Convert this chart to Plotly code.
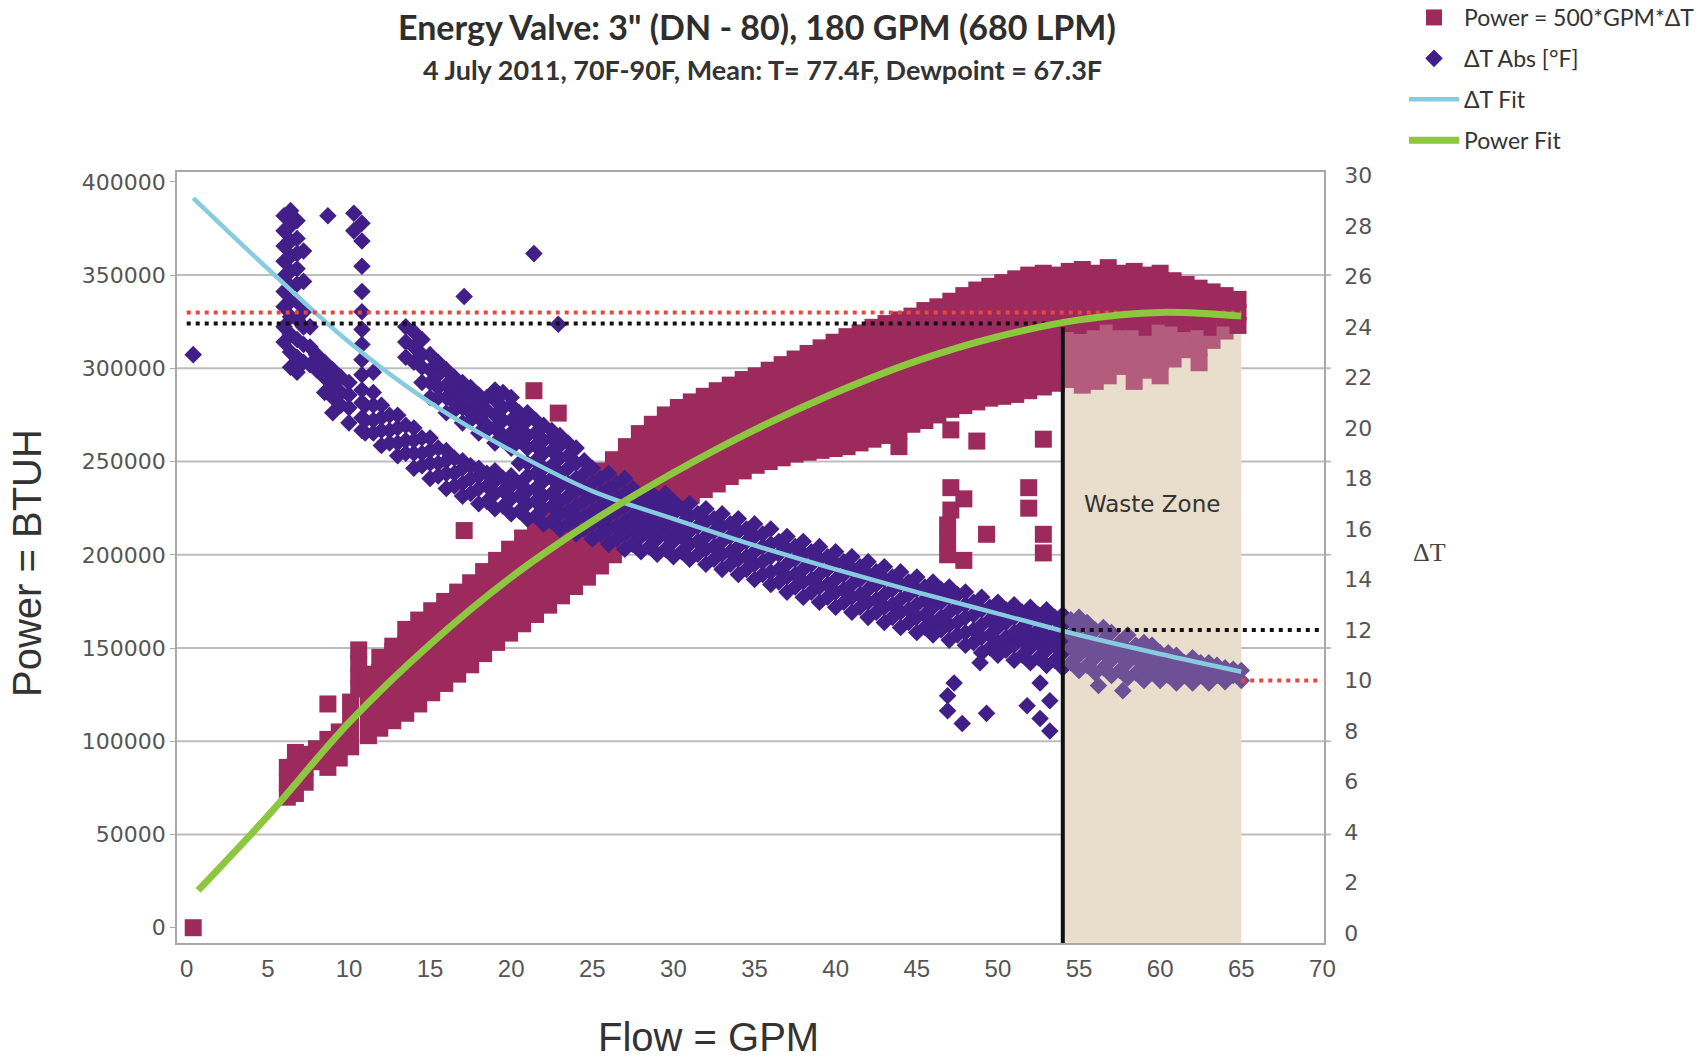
import plotly.graph_objects as go

# ---------------- text ----------------
title_text = 'Energy Valve: 3" (DN - 80), 180 GPM (680 LPM)'
subtitle_text = "4 July 2011, 70F-90F, Mean: T= 77.4F, Dewpoint = 67.3F"
x_title = "Flow = GPM"
y_title = "Power = BTUH"
y2_title = "ΔT"
zone_label = "Waste Zone"
name_power = "Power = 500*GPM*ΔT"
name_dt = "ΔT Abs [°F]"
name_dt_fit = "ΔT Fit"
name_power_fit = "Power Fit"

# ---------------- axes ----------------
x_tick_vals = [0, 5, 10, 15, 20, 25, 30, 35, 40, 45, 50, 55, 60, 65, 70]
power_tick_vals = [0, 50000, 100000, 150000, 200000, 250000, 300000, 350000, 400000]
power_grid_vals = [50000, 100000, 150000, 200000, 250000, 300000, 350000]
dt_tick_vals = [0, 2, 4, 6, 8, 10, 12, 14, 16, 18, 20, 22, 24, 26, 28, 30]
x_range = [-0.6, 70.1]
power_range = [-8200, 405300]
dt_range = [-0.39, 30.13]

# ---------------- scatter: Power (kBTUH), grouped by GPM column ----------------
power_cols = [
    (0.4, [0]),
    (6.2, [70, 78, 86]),
    (6.7, [72, 80, 87, 94]),
    (7.3, [78, 86, 93]),
    (8.0, [89, 96]),
    (8.7, [86, 93, 101, 120]),
    (9.4, [91, 98, 105]),
    (10.1, [97, 105, 113, 121]),
    (10.6, [128, 135, 142, 149]),
    (11.2, [103, 110, 118, 125, 132, 136]),
    (11.9, [107, 115, 122, 130, 137, 145]),
    (12.7, [111, 118, 126, 133, 141, 148, 151]),
    (13.5, [115, 122, 130, 137, 145, 152, 160]),
    (14.3, [120, 127, 135, 142, 150, 157, 165]),
    (15.1, [126, 133, 141, 148, 155, 163, 170]),
    (15.9, [131, 138, 146, 153, 160, 168, 175]),
    (16.7, [136, 143, 151, 158, 165, 173, 180]),
    (17.1, [213]),
    (17.5, [141, 148, 156, 163, 170, 178, 185]),
    (18.3, [147, 154, 162, 169, 176, 184, 191]),
    (19.1, [153, 160, 168, 175, 182, 190, 197]),
    (19.9, [158, 165, 173, 180, 188, 195, 203]),
    (20.7, [163, 170, 178, 186, 194, 201, 209]),
    (21.4, [288]),
    (21.5, [168, 176, 183, 191, 199, 207, 215]),
    (22.3, [173, 181, 189, 197, 205, 213, 221]),
    (22.9, [276]),
    (23.1, [178, 186, 193, 201, 209, 217, 224, 227]),
    (23.9, [183, 191, 198, 206, 214, 222, 229, 233]),
    (24.7, [188, 196, 203, 211, 219, 227, 234, 239]),
    (25.5, [194, 201, 209, 216, 224, 231, 238, 245]),
    (26.3, [200, 207, 215, 222, 229, 237, 244, 251]),
    (27.1, [206, 213, 221, 228, 236, 243, 250, 258]),
    (27.9, [212, 219, 227, 234, 242, 249, 257, 265]),
    (28.7, [218, 225, 233, 240, 248, 255, 263, 270]),
    (29.5, [223, 230, 238, 245, 253, 260, 268, 275]),
    (30.3, [228, 235, 243, 250, 257, 265, 272, 279]),
    (31.1, [232, 239, 247, 254, 261, 268, 275, 282]),
    (31.9, [235, 242, 250, 257, 264, 271, 278, 285]),
    (32.7, [238, 245, 253, 260, 267, 274, 281, 288]),
    (33.5, [242, 249, 256, 264, 271, 278, 285, 291]),
    (34.3, [245, 252, 259, 267, 274, 281, 288, 294]),
    (35.1, [248, 255, 262, 269, 276, 283, 290, 296]),
    (35.9, [250, 257, 264, 271, 278, 285, 292, 299]),
    (36.7, [252, 259, 266, 273, 281, 288, 295, 302]),
    (37.5, [254, 261, 268, 276, 283, 290, 298, 305]),
    (38.3, [255, 262, 270, 277, 285, 292, 300, 308]),
    (39.1, [256, 264, 271, 279, 287, 295, 303, 311]),
    (39.9, [257, 265, 273, 280, 288, 296, 304, 311, 314]),
    (40.7, [258, 266, 274, 282, 290, 298, 306, 313, 317]),
    (41.5, [260, 268, 276, 284, 292, 300, 308, 315, 319]),
    (42.3, [262, 270, 278, 286, 294, 302, 310, 317, 322]),
    (43.1, [264, 272, 280, 288, 296, 304, 312, 319, 324]),
    (43.9, [258, 266, 274, 282, 290, 298, 306, 314, 321, 326]),
    (44.7, [270, 278, 286, 294, 302, 310, 317, 324, 328]),
    (45.5, [272, 280, 288, 296, 304, 312, 319, 326, 331]),
    (46.3, [275, 283, 291, 299, 307, 314, 321, 328, 333]),
    (46.9, [200, 208, 216]),
    (47.1, [224, 236, 267, 278, 286, 294, 302, 310, 318, 325, 332, 336]),
    (47.9, [197, 230, 280, 288, 296, 304, 312, 320, 327, 334, 339]),
    (48.7, [261, 282, 290, 298, 306, 314, 322, 329, 336, 342]),
    (49.3, [211]),
    (49.5, [284, 292, 300, 308, 316, 324, 331, 338, 344]),
    (50.3, [285, 293, 301, 309, 317, 325, 332, 339, 346]),
    (51.1, [286, 294, 302, 310, 318, 326, 334, 341, 348]),
    (51.9, [225, 236, 288, 296, 304, 312, 320, 328, 336, 343, 350]),
    (52.8, [201, 211, 262, 290, 298, 306, 314, 322, 330, 337, 344, 351]),
    (53.6, [292, 300, 308, 316, 324, 331, 338, 345, 350]),
    (54.4, [294, 302, 310, 317, 324, 331, 338, 345, 352]),
    (55.2, [291, 299, 307, 315, 323, 331, 339, 346, 353]),
    (56.0, [293, 301, 309, 317, 325, 333, 340, 346, 351]),
    (56.8, [296, 304, 312, 320, 328, 336, 343, 349, 354]),
    (57.6, [301, 309, 317, 325, 333, 340, 346, 351]),
    (58.4, [293, 301, 309, 317, 325, 333, 340, 346, 352]),
    (59.2, [299, 307, 315, 322, 329, 336, 343, 350]),
    (60.0, [296, 304, 312, 320, 328, 335, 342, 347, 351]),
    (60.8, [305, 313, 320, 327, 334, 341, 347]),
    (61.6, [310, 317, 324, 331, 338, 345]),
    (62.4, [303, 311, 318, 325, 332, 338, 343]),
    (63.2, [315, 322, 329, 335, 341]),
    (64.0, [320, 327, 333, 339]),
    (64.8, [323, 330, 337]),
]

# ---------------- scatter: ΔT (°F), grouped by GPM column ----------------
dt_cols = [
    (0.4, [22.9]),
    (6.0, [28.4, 27.8, 27.2, 26.6, 26.0, 25.4, 24.8, 24.0, 23.4]),
    (6.4, [28.6, 28.0, 27.4, 26.8, 26.2, 25.6, 25.0, 24.4, 23.7, 23.0, 22.4]),
    (6.8, [28.2, 27.5, 26.9, 26.3, 25.7, 25.0, 24.3, 23.5, 22.8, 22.2]),
    (7.2, [27.0, 25.8, 24.6, 24.0, 23.3, 22.6]),
    (7.6, [24.0, 23.2, 22.5]),
    (8.0, [22.9, 22.3]),
    (8.5, [22.6, 22.0, 21.4]),
    (8.7, [28.4]),
    (9.0, [20.6, 21.2, 21.7, 22.3]),
    (9.5, [20.9, 21.4, 22.0]),
    (10.0, [20.2, 20.8, 21.3, 21.8]),
    (10.3, [28.5, 27.8]),
    (10.8, [19.9, 20.4, 21.0, 21.5, 22.1, 22.7, 23.3, 23.9, 24.6, 25.4, 26.4, 27.4, 28.1]),
    (11.0, [19.8, 20.3, 20.9]),
    (11.5, [19.8, 20.3, 20.9, 21.4, 22.2]),
    (12.0, [19.3, 19.9, 20.4, 20.9]),
    (12.5, [19.4, 19.9, 20.5]),
    (13.0, [18.9, 19.4, 20.0, 20.5]),
    (13.5, [19.0, 19.5, 20.1, 22.8, 23.4, 24.0]),
    (14.0, [18.4, 19.0, 19.5, 20.0, 22.6, 23.2, 23.8]),
    (14.5, [18.5, 19.0, 19.6, 21.8, 22.4, 22.9, 23.5]),
    (15.0, [18.0, 18.6, 19.1, 19.6, 21.2, 21.8, 22.3, 22.9]),
    (15.5, [18.1, 18.6, 19.2, 21.2, 21.6, 22.1, 22.6]),
    (16.0, [17.6, 18.2, 18.7, 19.1, 20.6, 21.2, 21.7, 22.3]),
    (16.5, [17.7, 18.2, 18.8, 20.7, 21.0, 21.5, 22.0]),
    (17.0, [17.3, 17.8, 18.4, 18.7, 20.2, 20.8, 21.3, 21.8]),
    (17.1, [25.2]),
    (17.5, [17.4, 18.0, 18.5, 20.3, 20.6, 21.1, 21.6]),
    (18.0, [17.0, 17.6, 18.1, 18.4, 19.8, 20.4, 20.9, 21.3]),
    (18.5, [17.1, 17.7, 18.2, 19.9, 20.1, 20.7, 21.2]),
    (19.0, [16.8, 17.4, 17.9, 18.3, 19.4, 20.0, 20.5, 21.1, 21.5]),
    (19.5, [16.9, 17.5, 18.0, 19.5, 19.7, 20.3, 20.8, 21.4]),
    (20.0, [16.6, 17.2, 17.7, 18.1, 19.2, 19.8, 20.3, 20.9, 21.2]),
    (20.5, [16.7, 17.3, 17.8, 18.6, 19.5, 20.0, 20.6]),
    (21.0, [16.4, 17.0, 17.5, 18.1, 18.6, 19.2, 19.7, 20.3, 20.6]),
    (21.4, [26.9]),
    (21.5, [16.5, 17.1, 17.6, 18.2, 18.7, 19.3, 19.8, 20.3]),
    (22.0, [16.2, 16.8, 17.3, 17.9, 18.4, 19.0, 19.5, 20.1]),
    (22.5, [16.3, 16.9, 17.4, 18.0, 18.5, 19.1, 19.6, 19.9]),
    (22.9, [24.1]),
    (23.0, [16.0, 16.6, 17.1, 17.7, 18.2, 18.8, 19.3, 19.7]),
    (23.5, [16.2, 16.7, 17.3, 17.8, 18.4, 18.9, 19.4]),
    (24.0, [15.8, 16.4, 16.9, 17.5, 18.0, 18.6, 19.2]),
    (24.5, [16.0, 16.5, 17.1, 17.6, 18.2, 18.7]),
    (25.0, [15.6, 16.2, 16.7, 17.3, 17.8, 18.4]),
    (25.5, [15.8, 16.3, 16.9, 17.4, 18.0]),
    (26.0, [15.4, 16.0, 16.5, 17.1, 17.6, 18.2]),
    (26.5, [15.6, 16.1, 16.7, 17.2, 17.8]),
    (27.0, [15.2, 15.8, 16.3, 16.9, 17.4, 18.0]),
    (27.5, [15.4, 16.0, 16.5, 17.1, 17.6]),
    (28.0, [15.1, 15.7, 16.2, 16.8, 17.3]),
    (28.5, [15.3, 15.9, 16.4, 17.0, 17.5]),
    (29.0, [15.0, 15.6, 16.1, 16.7, 17.2]),
    (29.5, [15.2, 15.8, 16.3, 16.9, 17.4]),
    (30.0, [14.9, 15.5, 16.0, 16.6, 17.1]),
    (30.5, [15.1, 15.7, 16.2, 16.8]),
    (31.0, [14.8, 15.4, 15.9, 16.5, 17.0]),
    (31.5, [15.0, 15.5, 16.1, 16.6]),
    (32.0, [14.6, 15.2, 15.7, 16.3, 16.8]),
    (32.5, [14.8, 15.3, 15.9, 16.4]),
    (33.0, [14.4, 15.0, 15.5, 16.1, 16.6]),
    (33.5, [14.6, 15.1, 15.7, 16.2]),
    (34.0, [14.2, 14.8, 15.3, 15.9, 16.4]),
    (34.5, [14.4, 14.9, 15.5, 16.0]),
    (35.0, [14.0, 14.6, 15.1, 15.7, 16.2]),
    (35.5, [14.2, 14.7, 15.3, 15.8]),
    (36.0, [13.8, 14.3, 14.9, 15.4, 16.0]),
    (36.5, [13.9, 14.4, 15.0, 15.5]),
    (37.0, [13.5, 14.1, 14.6, 15.2, 15.7]),
    (37.5, [13.7, 14.2, 14.8, 15.3]),
    (38.0, [13.3, 13.9, 14.4, 15.0, 15.5]),
    (38.5, [13.5, 14.0, 14.6, 15.1]),
    (39.0, [13.1, 13.7, 14.2, 14.8, 15.3]),
    (39.5, [13.3, 13.8, 14.4, 14.9]),
    (40.0, [12.9, 13.5, 14.0, 14.6, 15.1]),
    (40.5, [13.1, 13.6, 14.2, 14.7]),
    (41.0, [12.7, 13.3, 13.8, 14.4, 14.9]),
    (41.5, [12.9, 13.4, 14.0, 14.5]),
    (42.0, [12.5, 13.1, 13.6, 14.2, 14.7]),
    (42.5, [12.7, 13.2, 13.8, 14.3]),
    (43.0, [12.3, 12.9, 13.4, 14.0, 14.5]),
    (43.5, [12.5, 13.0, 13.6, 14.1]),
    (44.0, [12.1, 12.7, 13.2, 13.8, 14.3]),
    (44.5, [12.3, 12.8, 13.4, 13.9]),
    (45.0, [11.9, 12.5, 13.0, 13.6, 14.1]),
    (45.5, [12.1, 12.6, 13.2, 13.7]),
    (46.0, [11.8, 12.3, 12.9, 13.4, 13.9]),
    (46.5, [12.0, 12.5, 13.1, 13.6]),
    (46.9, [9.4, 8.8]),
    (47.0, [11.6, 12.2, 12.7, 13.3, 13.7]),
    (47.3, [9.9]),
    (47.5, [11.8, 12.3, 12.9, 13.4]),
    (47.8, [8.3]),
    (48.0, [11.4, 11.9, 12.5, 13.0, 13.5]),
    (48.5, [11.5, 12.0, 12.6, 13.1]),
    (48.9, [10.7]),
    (49.0, [11.1, 11.7, 12.2, 12.8, 13.3]),
    (49.3, [8.7]),
    (49.5, [11.3, 11.8, 12.4, 12.9]),
    (50.0, [11.0, 11.5, 12.1, 12.6, 13.1]),
    (50.5, [11.2, 11.7, 12.3, 12.8]),
    (51.0, [10.8, 11.4, 11.9, 12.5, 13.0]),
    (51.5, [11.0, 11.6, 12.1, 12.7]),
    (51.8, [9.0]),
    (52.0, [10.7, 11.3, 11.8, 12.4, 12.9]),
    (52.5, [10.9, 11.5, 12.0, 12.6]),
    (52.6, [9.9, 8.5]),
    (53.0, [10.6, 11.2, 11.7, 12.3, 12.8]),
    (53.2, [8.0, 9.2]),
    (53.5, [10.8, 11.4, 11.9, 12.5]),
    (54.0, [10.5, 11.1, 11.6, 12.2, 12.6]),
    (54.5, [10.7, 11.3, 11.8, 12.4]),
    (55.0, [10.4, 11.0, 11.5, 12.1, 12.5]),
    (55.5, [10.6, 11.2, 11.7, 12.3]),
    (56.0, [10.3, 10.9, 11.4, 12.0]),
    (56.2, [9.8]),
    (56.5, [10.5, 11.1, 11.6, 12.1]),
    (57.0, [10.2, 10.8, 11.3, 11.9]),
    (57.5, [10.4, 11.0, 11.5]),
    (57.7, [9.6]),
    (58.0, [10.1, 10.7, 11.2, 11.8]),
    (58.5, [10.3, 10.9, 11.4]),
    (59.0, [10.0, 10.6, 11.1, 11.5]),
    (59.5, [10.3, 10.8, 11.4]),
    (60.0, [10.0, 10.5, 11.1]),
    (60.5, [10.2, 10.8, 11.1]),
    (61.0, [9.9, 10.5, 11.0]),
    (61.5, [10.2, 10.7]),
    (62.0, [9.9, 10.5, 10.9]),
    (62.5, [10.2, 10.7]),
    (63.0, [9.9, 10.4, 10.7]),
    (63.5, [10.2, 10.6]),
    (64.0, [9.95, 10.5]),
    (64.5, [10.2, 10.45]),
    (65.0, [10.0, 10.4]),
]

# ---------------- fit curves ----------------
power_fit_gpm = [0.7, 5, 10, 15, 20, 25, 30, 35, 40, 45, 50, 55, 60, 65]
power_fit_btuh = [20000, 60000, 110000, 152000, 188000, 218000, 244000, 267000,
                  287000, 304000, 317000, 326000, 330000, 328000]
dt_fit_gpm = [0.4, 5, 10, 15, 20, 25, 30, 35, 40, 45, 50, 55, 60, 65]
dt_fit_f = [29.1, 26.3, 23.4, 21.0, 19.1, 17.5, 16.4, 15.35, 14.4, 13.5, 12.65, 11.8, 11.05, 10.35]

# ---------------- reference levels / zone ----------------
waste_start, waste_end = 54, 65
waste_top_btuh = 322000
waste_top_dt = 24
power_ref_red, power_ref_black = 330000, 324000
dt_ref_black, dt_ref_red = 12, 10
x_max = 70

# ---------------- expand columns ----------------
power_x, power_y = [], []
for gx, vals in power_cols:
    for v in vals:
        power_x.append(gx)
        power_y.append(v * 1000)
dt_x, dt_y = [], []
for gx, vals in dt_cols:
    for v in vals:
        dt_x.append(gx)
        dt_y.append(v)

SQ = "#9C2A5C"
SQ_Z = "#B45C7C"
DM = "#421E88"
DM_Z = "#6D5096"
sq_colors = [SQ_Z if (waste_start < x <= waste_end + 0.3 and y < waste_top_btuh) else SQ
             for x, y in zip(power_x, power_y)]
dm_colors = [DM_Z if (waste_start < x <= waste_end + 0.3 and y < waste_top_dt) else DM
             for x, y in zip(dt_x, dt_y)]

# ---------------- layout geometry (pixels) ----------------
W, H = 1707, 1058
L, R, T, B = 177, 383, 172, 115
PW, PH = W - L - R, H - T - B


def px_x(px):
    return (px - L) / PW


def px_y(py):
    return (H - B - py) / PH


fig = go.Figure()

fig.add_trace(go.Scatter(
    x=power_x, y=power_y, mode="markers", name=name_power, legendgroup="a",
    marker=dict(symbol="square", size=17, color=sq_colors, line=dict(width=0)),
    yaxis="y"))
fig.add_trace(go.Scatter(
    x=dt_x, y=dt_y, mode="markers", name=name_dt, legendgroup="b",
    marker=dict(symbol="diamond", size=13.5, color=dm_colors, line=dict(width=0)),
    yaxis="y2"))
fig.add_trace(go.Scatter(
    x=[waste_start, x_max], y=[dt_ref_black, dt_ref_black], mode="lines", showlegend=False,
    line=dict(color="#111111", width=4, dash="4px,5px"), yaxis="y2", hoverinfo="skip"))
fig.add_trace(go.Scatter(
    x=[waste_end, x_max], y=[dt_ref_red, dt_ref_red], mode="lines", showlegend=False,
    line=dict(color="#E8473F", width=4, dash="4px,5px"), yaxis="y2", hoverinfo="skip"))
fig.add_trace(go.Scatter(
    x=dt_fit_gpm, y=dt_fit_f, mode="lines", name=name_dt_fit, legendgroup="c",
    line=dict(color="#86CCDE", width=4.5, shape="spline"), yaxis="y2"))
fig.add_trace(go.Scatter(
    x=[0, waste_end], y=[power_ref_red, power_ref_red], mode="lines", showlegend=False,
    line=dict(color="#E8473F", width=4, dash="4px,5px"), yaxis="y3", hoverinfo="skip"))
fig.add_trace(go.Scatter(
    x=[0, waste_start], y=[power_ref_black, power_ref_black], mode="lines", showlegend=False,
    line=dict(color="#111111", width=4, dash="4px,5px"), yaxis="y3", hoverinfo="skip"))
fig.add_trace(go.Scatter(
    x=power_fit_gpm, y=power_fit_btuh, mode="lines", name=name_power_fit, legendgroup="d",
    line=dict(color="#8DC63F", width=7, shape="spline"), yaxis="y3"))

# waste zone background + gridlines
fig.add_shape(type="rect", xref="x", yref="y", x0=waste_start, x1=waste_end,
              y0=power_range[0], y1=waste_top_btuh, fillcolor="#E9DDCB",
              line=dict(width=0), layer="below")
for v in power_grid_vals:
    fig.add_shape(type="line", xref="paper", yref="y", x0=0, x1=1.006, y0=v, y1=v,
                  line=dict(color="#BDBDBD", width=2), layer="below")
fig.add_shape(type="line", xref="x", yref="y", x0=waste_start, x1=waste_start,
              y0=power_range[0], y1=waste_top_btuh,
              line=dict(color="#111111", width=4), layer="above")

axis_line = "#A8A8A8"
fig.update_layout(
    width=W, height=H, autosize=False,
    margin=dict(l=L, r=R, t=T, b=B, pad=0, autoexpand=False),
    paper_bgcolor="white", plot_bgcolor="white",
    xaxis=dict(range=x_range, tickvals=x_tick_vals, showgrid=False, zeroline=False,
               showline=True, linecolor=axis_line, linewidth=1.5, mirror=True,
               ticks="", ticklabelstandoff=3,
               tickfont=dict(family="Liberation Sans", size=24, color="#555555")),
    yaxis=dict(range=power_range, tickvals=power_tick_vals, tickformat="d",
               showgrid=False, zeroline=False, showline=True, linecolor=axis_line,
               linewidth=1.5, mirror=True, ticks="outside", ticklen=5, tickcolor=axis_line,
               tickfont=dict(family="DejaVu Sans", size=22, color="#555555")),
    yaxis2=dict(range=dt_range, tickvals=dt_tick_vals, overlaying="y", side="right",
                showgrid=False, zeroline=False, showline=True, linecolor=axis_line,
                linewidth=1.5, ticks="", ticklabelstandoff=14,
                tickfont=dict(family="DejaVu Sans", size=22, color="#555555")),
    yaxis3=dict(range=power_range, overlaying="y", visible=False),
    legend=dict(x=px_x(1404), y=px_y(-4), xanchor="left", yanchor="top",
                traceorder="grouped", tracegroupgap=8,
                itemwidth=50, bgcolor="rgba(0,0,0,0)",
                font=dict(family="Lato", size=23, color="#333333")),
    showlegend=True,
)

# chart title (kept fully inside the page) and subtitle
fig.add_annotation(text="<b>" + title_text + "</b>", xref="paper", yref="paper",
                   x=px_x(757), y=px_y(26), showarrow=False, xanchor="center", yanchor="middle",
                   font=dict(family="Lato", size=34, color="#2e2e2e"))
fig.add_annotation(text="<b>" + subtitle_text + "</b>", xref="paper", yref="paper",
                   x=px_x(762), y=px_y(69), showarrow=False, xanchor="center", yanchor="middle",
                   font=dict(family="Lato", size=27, color="#333333"))
fig.add_annotation(text=y_title, xref="paper", yref="paper", x=px_x(27), y=px_y(563),
                   textangle=-90, showarrow=False, xanchor="center", yanchor="middle",
                   font=dict(family="Liberation Sans", size=40, color="#333333"))
fig.add_annotation(text=x_title, xref="paper", yref="paper", x=px_x(708), y=px_y(1037),
                   showarrow=False, xanchor="center", yanchor="middle",
                   font=dict(family="Liberation Sans", size=40, color="#333333"))
fig.add_annotation(text=y2_title, xref="paper", yref="paper", x=px_x(1429), y=px_y(552),
                   showarrow=False, xanchor="center", yanchor="middle",
                   font=dict(family="Liberation Serif", size=26, color="#444444"))
fig.add_annotation(text=zone_label, xref="x", yref="y", x=59.5, y=227000,
                   showarrow=False, xanchor="center", yanchor="middle",
                   font=dict(family="DejaVu Sans", size=23, color="#333333"))

fig.write_html("out.html", config={"displayModeBar": False},
               post_script="document.body.style.margin='0';document.body.style.overflow='hidden';")
